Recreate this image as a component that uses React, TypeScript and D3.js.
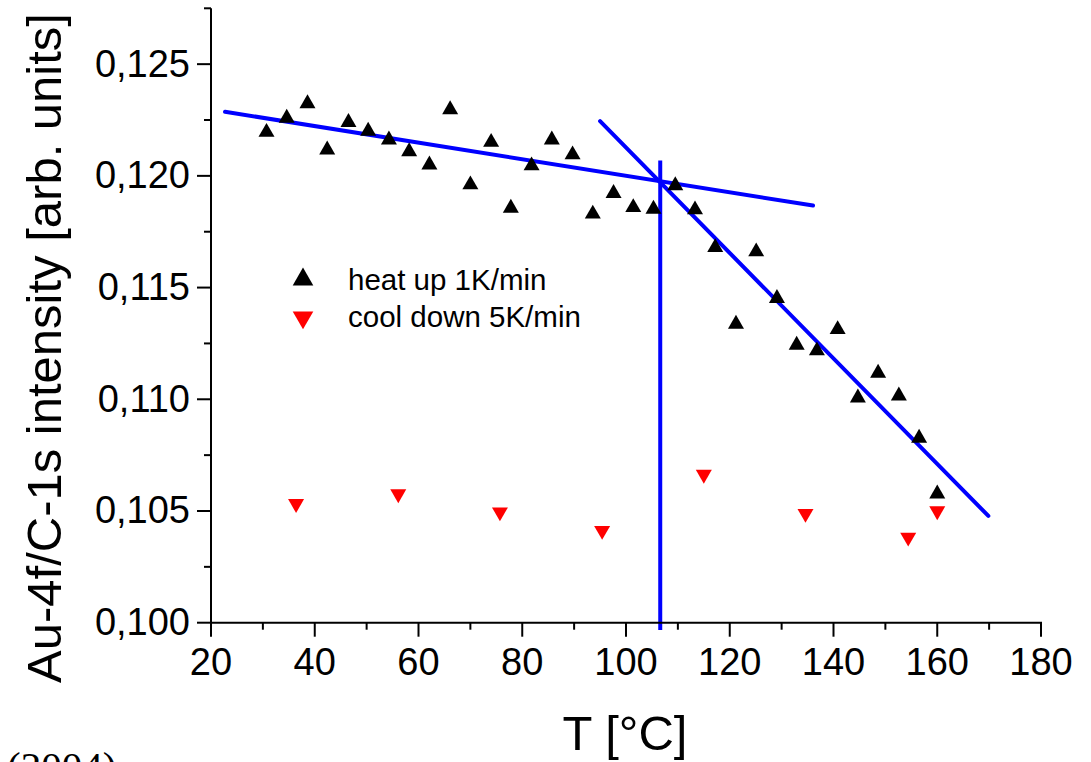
import React from "react";
import * as d3 from "d3";

// heat up 1K/min (black, up triangles)
const heatT = [30.7, 34.6, 38.6, 42.4, 46.5, 50.3, 54.3, 58.2, 62.1, 66.1, 70.0, 74.0, 77.8, 81.8, 85.7, 89.7, 93.6, 97.6, 101.4, 105.3, 109.5, 113.3, 117.2, 121.2, 125.1, 129.1, 132.9, 136.8, 140.8, 144.7, 148.6, 152.6, 156.5, 160.0];
const heatI = [0.12206, 0.12269, 0.12334, 0.12127, 0.1225, 0.12211, 0.12172, 0.12119, 0.1206, 0.12307, 0.11971, 0.12161, 0.11866, 0.12056, 0.12172, 0.12105, 0.1184, 0.11932, 0.11869, 0.11862, 0.11967, 0.11859, 0.1169, 0.11347, 0.11671, 0.11462, 0.11253, 0.11228, 0.11323, 0.11017, 0.11128, 0.11026, 0.10837, 0.10587];

// cool down 5K/min (red, down triangles)
const coolT = [36.4, 56.1, 75.7, 95.4, 115.0, 134.6, 154.4, 160.0];
const coolI = [0.10522, 0.10566, 0.10485, 0.10402, 0.10653, 0.10478, 0.10372, 0.1049];

// fitted lines (endpoints in data units)
const fitLowT = [22.7, 136.05];
const fitLowI = [0.12287, 0.11867];
const fitHighT = [95.0, 169.85];
const fitHighI = [0.12245, 0.10478];
const transitionT = [106.6, 106.6];
const transitionI = [0.12069, 0.09967];

const xMajor = [20, 40, 60, 80, 100, 120, 140, 160, 180];
const xMinor = [30, 50, 70, 90, 110, 130, 150, 170];
const yMajor = [0.1, 0.105, 0.11, 0.115, 0.12, 0.125];
const yMinor = [0.1025, 0.1075, 0.1125, 0.1175, 0.1225, 0.1275];

const legendLabels = ["heat up 1K/min", "cool down 5K/min"];

const W = 1091;
const H = 762;
const font = "'Liberation Sans', Arial, sans-serif";

function tri(w: number, down: boolean) {
  const h = w * 0.87;
  const s = down ? -1 : 1;
  return `M0,${(-s * h) / 2}L${w / 2},${(s * h) / 2}L${-w / 2},${(s * h) / 2}Z`;
}

export default function App() {
  const x = d3.scaleLinear().domain([20, 180]).range([211, 1041]);
  const y = d3.scaleLinear().domain([0.1, 0.1275]).range([622.7, 8.3]);
  const fmt = (v: number) => d3.format(".3f")(v).replace(".", ",");
  const line = d3
    .line<number>()
    .x((d) => x(d))
    .y((_, i) => 0);

  const seg = (ts: number[], vs: number[]) =>
    d3.line<number>().x((d) => x(d)).y((_, i) => y(vs[i]))(ts) || "";

  const x0 = x(20);
  const y0 = y(0.1);

  return (
    <svg
      width={W}
      height={H}
      style={{ position: "absolute", left: 0, top: 0, background: "#fff" }}
      fontFamily={font}
    >
      {/* fit lines */}
      <g stroke="#0000ff" strokeWidth={4} strokeLinecap="round" fill="none">
        <path d={seg(fitLowT, fitLowI)} />
        <path d={seg(fitHighT, fitHighI)} />
        <path d={seg(transitionT, transitionI)} strokeLinecap="butt" />
      </g>

      {/* data */}
      {heatT.map((t, i) => (
        <path key={"h" + i} d={tri(16, false)} transform={`translate(${x(t)},${y(heatI[i])})`} fill="#000" />
      ))}
      {coolT.map((t, i) => (
        <path key={"c" + i} d={tri(16, true)} transform={`translate(${x(t)},${y(coolI[i])})`} fill="#ff0000" />
      ))}

      {/* axes */}
      <g stroke="#000" strokeWidth={2} fill="none">
        <line x1={x0} x2={x0} y1={y(0.1275)} y2={y0 + 1} />
        <line x1={x0 - 1} x2={x(180) + 1} y1={y0} y2={y0} />
        {xMajor.map((t) => (
          <line key={"xM" + t} x1={x(t)} x2={x(t)} y1={y0} y2={y0 + 14} />
        ))}
        {xMinor.map((t) => (
          <line key={"xm" + t} x1={x(t)} x2={x(t)} y1={y0} y2={y0 + 7} />
        ))}
        {yMajor.map((v) => (
          <line key={"yM" + v} x1={x0 - 14} x2={x0} y1={y(v)} y2={y(v)} />
        ))}
        {yMinor.map((v) => (
          <line key={"ym" + v} x1={x0 - 7} x2={x0} y1={y(v)} y2={y(v)} />
        ))}
      </g>

      {/* tick labels */}
      <g fontSize={38} fill="#000">
        {xMajor.map((t) => (
          <text key={"xl" + t} x={x(t)} y={y0 + 52} textAnchor="middle">
            {t}
          </text>
        ))}
        {yMajor.map((v) => (
          <text key={"yl" + v} x={x0 - 21} y={y(v) + 12.5} textAnchor="end">
            {fmt(v)}
          </text>
        ))}
      </g>

      {/* axis titles */}
      <text x={625} y={750} fontSize={49} textAnchor="middle">
        T [°C]
      </text>
      <text transform="translate(61,348) rotate(-90)" fontSize={49} textAnchor="middle">
        Au-4f/C-1s intensity [arb. units]
      </text>

      {/* legend */}
      <g fontSize={29.5}>
        <path d={tri(20.6, false)} transform="translate(303,276.5)" fill="#000" />
        <text x={348} y={290}>{legendLabels[0]}</text>
        <path d={tri(20.6, true)} transform="translate(303,320.4)" fill="#ff0000" />
        <text x={348} y={327}>{legendLabels[1]}</text>
      </g>

      {/* caption fragment */}
      <text x={7} y={780} fontSize={41} fontFamily="'Liberation Serif', 'Times New Roman', serif">
        (2004)
      </text>
    </svg>
  );
}
